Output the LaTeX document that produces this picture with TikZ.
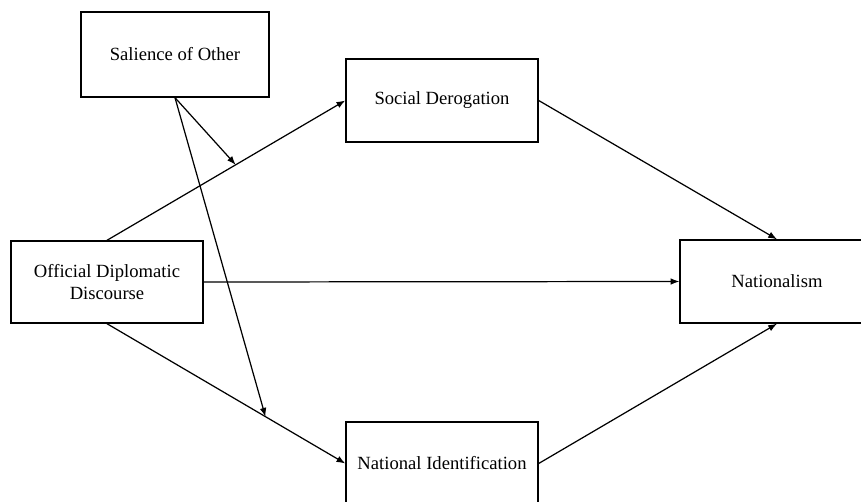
\documentclass[tikz,border=0pt]{standalone}
\usepackage{fontspec}
\setmainfont{Liberation Serif}
\usetikzlibrary{arrows.meta}
\begin{document}
\begin{tikzpicture}[x=0.02cm,y=-0.02cm,
  varbox/.style={draw, line width=0.8pt, minimum width=3.84cm, minimum height=1.66cm,
    inner sep=0pt, align=center, font=\fontsize{10.6}{12.6}\selectfont},
  path arrow/.style={line width=0.7pt, -{Latex[length=5pt,width=3.8pt]}}]
\useasboundingbox (0,0) rectangle (861,502);
\clip (0,0) rectangle (861,502);
% variables
\node[varbox, minimum width=3.76cm, minimum height=1.7cm] (sal) at (175,54.5) {Salience of Other};
\node[varbox] (sd) at (442,100.5) {Social Derogation};
\node[varbox, minimum height=1.64cm] (odd) at (107,282) {Official Diplomatic\\Discourse};
\node[varbox, minimum width=3.88cm] (nat) at (777,281.5) {Nationalism};
\node[varbox] (ni) at (442,463.5) {National Identification};
% paths
\draw[path arrow] (odd.north) -- coordinate[pos=0.54] (modtop) (sd.west);
\draw[path arrow] (odd.south) -- coordinate[pos=0.665] (modbot) (ni.west);
\draw[path arrow] (odd.east) -- (nat.west);
\draw[path arrow] (sd.east) -- (nat.north);
\draw[path arrow] (ni.east) -- (nat.south);
% moderation
\draw[path arrow] (sal.south) -- (modtop);
\draw[path arrow] (sal.south) -- (modbot);
\end{tikzpicture}
\end{document}
